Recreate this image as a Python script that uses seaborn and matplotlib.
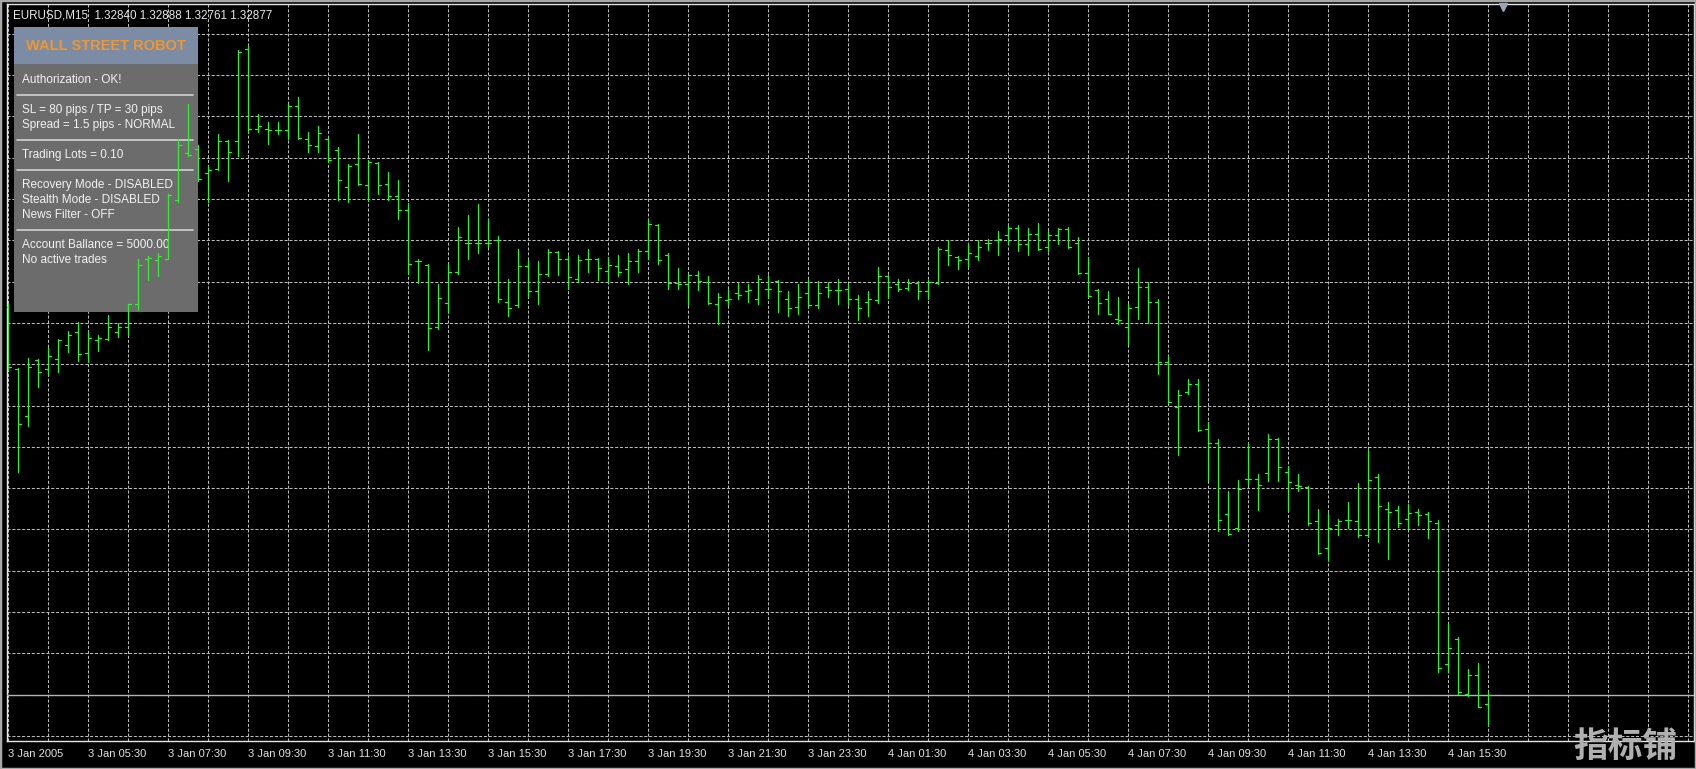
import numpy as np
import pandas as pd
import matplotlib
matplotlib.use("Agg")
import matplotlib.pyplot as plt
import matplotlib.transforms as mtransforms
from matplotlib.patches import Rectangle
import seaborn as sns

# EURUSD M15 bars (first bar 3 Jan 2005 03:30)
symbol = "EURUSD,M15"
start_time = "2005-01-03 03:30"

open_ = [1.34380, 1.34140, 1.33958, 1.34175, 1.34140, 1.34179, 1.34233, 1.34280, 1.34202, 1.34249,
         1.34253, 1.34280, 1.34303, 1.34392, 1.34563, 1.34559, 1.34566, 1.34795, 1.34977, 1.34989,
         1.34896, 1.34915, 1.35020, 1.35020, 1.35380, 1.35070, 1.35070, 1.35066, 1.35066, 1.35159,
         1.35031, 1.35004, 1.35031, 1.34985, 1.34845, 1.34931, 1.34853, 1.34935, 1.34857, 1.34810,
         1.34756, 1.34555, 1.34543, 1.34303, 1.34396, 1.34516, 1.34628, 1.34628, 1.34625, 1.34640,
         1.34400, 1.34388, 1.34539, 1.34442, 1.34508, 1.34590, 1.34563, 1.34489, 1.34566, 1.34566,
         1.34520, 1.34539, 1.34524, 1.34555, 1.34594, 1.34698, 1.34582, 1.34470, 1.34466, 1.34504,
         1.34477, 1.34392, 1.34404, 1.34431, 1.34442, 1.34408, 1.34450, 1.34481, 1.34408, 1.34377,
         1.34431, 1.34388, 1.34458, 1.34446, 1.34450, 1.34411, 1.34400, 1.34404, 1.34497, 1.34466,
         1.34454, 1.34470, 1.34439, 1.34470, 1.34601, 1.34574, 1.34566, 1.34578, 1.34625, 1.34640,
         1.34659, 1.34683, 1.34621, 1.34663, 1.34613, 1.34659, 1.34679, 1.34625, 1.34512, 1.34446,
         1.34411, 1.34334, 1.34303, 1.34380, 1.34458, 1.34400, 1.34167, 1.33993, 1.34051, 1.34082,
         1.33908, 1.33850, 1.33575, 1.33524, 1.33714, 1.33714, 1.33734, 1.33869, 1.33741, 1.33691,
         1.33683, 1.33548, 1.33447, 1.33536, 1.33555, 1.33548, 1.33497, 1.33722, 1.33598, 1.33594,
         1.33559, 1.33586, 1.33575, 1.33540, 1.32994, 1.33094, 1.32881, 1.32955, 1.32840]
high = [1.34396, 1.34144, 1.34183, 1.34179, 1.34225, 1.34253, 1.34284, 1.34322, 1.34287, 1.34272,
        1.34346, 1.34318, 1.34392, 1.34563, 1.34578, 1.34586, 1.34818, 1.35031, 1.35167, 1.35008,
        1.34923, 1.35047, 1.35027, 1.35376, 1.35395, 1.35128, 1.35097, 1.35097, 1.35167, 1.35194,
        1.35058, 1.35078, 1.35035, 1.35000, 1.34931, 1.35047, 1.34950, 1.34942, 1.34903, 1.34872,
        1.34780, 1.34566, 1.34547, 1.34466, 1.34547, 1.34690, 1.34737, 1.34776, 1.34721, 1.34652,
        1.34489, 1.34605, 1.34559, 1.34555, 1.34605, 1.34597, 1.34582, 1.34582, 1.34605, 1.34570,
        1.34574, 1.34582, 1.34586, 1.34605, 1.34721, 1.34702, 1.34586, 1.34528, 1.34508, 1.34520,
        1.34497, 1.34431, 1.34450, 1.34470, 1.34466, 1.34501, 1.34501, 1.34485, 1.34439, 1.34466,
        1.34489, 1.34481, 1.34477, 1.34489, 1.34466, 1.34427, 1.34439, 1.34532, 1.34504, 1.34489,
        1.34489, 1.34481, 1.34485, 1.34613, 1.34640, 1.34578, 1.34625, 1.34640, 1.34644, 1.34675,
        1.34698, 1.34698, 1.34683, 1.34706, 1.34675, 1.34683, 1.34687, 1.34648, 1.34574, 1.34450,
        1.34439, 1.34419, 1.34392, 1.34528, 1.34477, 1.34411, 1.34187, 1.34059, 1.34098, 1.34098,
        1.33935, 1.33869, 1.33664, 1.33710, 1.33850, 1.33730, 1.33888, 1.33873, 1.33761, 1.33730,
        1.33687, 1.33595, 1.33579, 1.33559, 1.33625, 1.33695, 1.33826, 1.33730, 1.33625, 1.33606,
        1.33617, 1.33598, 1.33586, 1.33555, 1.33149, 1.33102, 1.32978, 1.32998, 1.32888]
low = [1.34136, 1.33741, 1.33919, 1.34070, 1.34121, 1.34125, 1.34206, 1.34171, 1.34167, 1.34210,
       1.34249, 1.34264, 1.34272, 1.34369, 1.34485, 1.34497, 1.34563, 1.34787, 1.34962, 1.34865,
       1.34787, 1.34911, 1.34865, 1.34962, 1.35058, 1.35058, 1.35012, 1.35047, 1.35031, 1.35031,
       1.34981, 1.34981, 1.34942, 1.34795, 1.34787, 1.34853, 1.34795, 1.34818, 1.34795, 1.34721,
       1.34508, 1.34470, 1.34214, 1.34295, 1.34361, 1.34508, 1.34563, 1.34586, 1.34613, 1.34400,
       1.34342, 1.34380, 1.34419, 1.34392, 1.34497, 1.34504, 1.34450, 1.34477, 1.34516, 1.34485,
       1.34477, 1.34497, 1.34466, 1.34516, 1.34566, 1.34547, 1.34450, 1.34450, 1.34388, 1.34446,
       1.34392, 1.34311, 1.34388, 1.34408, 1.34400, 1.34392, 1.34415, 1.34361, 1.34342, 1.34353,
       1.34380, 1.34373, 1.34419, 1.34392, 1.34388, 1.34330, 1.34342, 1.34396, 1.34415, 1.34439,
       1.34446, 1.34408, 1.34408, 1.34466, 1.34543, 1.34524, 1.34535, 1.34559, 1.34601, 1.34582,
       1.34621, 1.34597, 1.34582, 1.34601, 1.34597, 1.34621, 1.34609, 1.34508, 1.34419, 1.34353,
       1.34350, 1.34311, 1.34237, 1.34334, 1.34315, 1.34121, 1.34005, 1.33807, 1.34043, 1.33900,
       1.33710, 1.33509, 1.33497, 1.33509, 1.33691, 1.33594, 1.33703, 1.33703, 1.33594, 1.33664,
       1.33536, 1.33420, 1.33400, 1.33497, 1.33521, 1.33489, 1.33489, 1.33470, 1.33404, 1.33528,
       1.33521, 1.33536, 1.33482, 1.32966, 1.32966, 1.32881, 1.32870, 1.32831, 1.32761]
close = [1.34148, 1.33927, 1.34148, 1.34125, 1.34187, 1.34249, 1.34272, 1.34195, 1.34257, 1.34260,
         1.34303, 1.34303, 1.34392, 1.34543, 1.34570, 1.34578, 1.34814, 1.35008, 1.34969, 1.34876,
         1.34911, 1.35020, 1.34981, 1.35368, 1.35070, 1.35078, 1.35066, 1.35066, 1.35159, 1.35035,
         1.35008, 1.35051, 1.34950, 1.34869, 1.34923, 1.34857, 1.34942, 1.34853, 1.34810, 1.34756,
         1.34547, 1.34555, 1.34299, 1.34415, 1.34516, 1.34648, 1.34628, 1.34628, 1.34628, 1.34408,
         1.34373, 1.34539, 1.34442, 1.34508, 1.34590, 1.34563, 1.34493, 1.34559, 1.34566, 1.34528,
         1.34543, 1.34516, 1.34555, 1.34594, 1.34702, 1.34559, 1.34470, 1.34466, 1.34504, 1.34481,
         1.34396, 1.34419, 1.34408, 1.34427, 1.34446, 1.34489, 1.34450, 1.34442, 1.34373, 1.34419,
         1.34388, 1.34431, 1.34446, 1.34446, 1.34411, 1.34373, 1.34411, 1.34497, 1.34458, 1.34450,
         1.34470, 1.34439, 1.34477, 1.34605, 1.34582, 1.34559, 1.34586, 1.34613, 1.34628, 1.34644,
         1.34683, 1.34621, 1.34663, 1.34605, 1.34659, 1.34679, 1.34613, 1.34512, 1.34423, 1.34396,
         1.34353, 1.34330, 1.34373, 1.34458, 1.34400, 1.34167, 1.34012, 1.34039, 1.34082, 1.33904,
         1.33850, 1.33555, 1.33501, 1.33675, 1.33714, 1.33691, 1.33869, 1.33757, 1.33699, 1.33687,
         1.33540, 1.33424, 1.33521, 1.33548, 1.33555, 1.33497, 1.33710, 1.33606, 1.33586, 1.33540,
         1.33579, 1.33571, 1.33548, 1.32982, 1.33059, 1.32889, 1.32955, 1.32831, 1.32877]

panel_title = "WALL STREET ROBOT"
panel_blocks = [
    ["Authorization - OK!"],
    ["SL = 80 pips / TP = 30 pips", "Spread = 1.5 pips - NORMAL"],
    ["Trading Lots = 0.10"],
    ["Recovery Mode - DISABLED", "Stealth Mode - DISABLED", "News Filter - OFF"],
    ["Account Ballance = 5000.00", "No active trades"],
]
watermark = "指标铺"

W, H = 1696, 769
sns.set_theme(style="dark")
plt.rcParams["font.family"] = ["Liberation Sans", "DejaVu Sans"]
plt.rcParams["lines.scale_dashes"] = False

n = len(open_)
times = pd.date_range(start_time, periods=n, freq="15min")

# OHLC bars as short segments (range line, open tick left, close tick right)
tk = 0.3
rows = []
for i in range(n):
    rows += [(3 * i, i, low[i]), (3 * i, i, high[i]),
             (3 * i + 1, i - tk, open_[i]), (3 * i + 1, i, open_[i]),
             (3 * i + 2, i, close[i]), (3 * i + 2, i + tk, close[i])]
bars = pd.DataFrame(rows, columns=["seg", "bar", "price"])

fig = plt.figure(figsize=(W / 100, H / 100), dpi=100, facecolor="black")
ax = fig.add_axes([7 / W, (H - 741) / H, (1694 - 7) / W, (741 - 4) / H])
ax.set_facecolor("black")

sns.lineplot(data=bars, x="bar", y="price", units="seg", estimator=None, sort=False,
             color="#33ee33", linewidth=0.9, ax=ax, zorder=5, legend=False)

ax.set_xlim(-0.1, 168.6)
ax.set_ylim(1.326974, 1.355525)
ax.set_xlabel("")
ax.set_ylabel("")

# grid like the terminal: every hour / fixed price step (one line sits on the bid)
major = np.arange(0, n, 8)
minor = [x for x in range(4, 169, 4) if x not in set(major)]
labels = ["%d Jan 2005" % times[0].day if i == 0 else "%d Jan %s" % (times[i].day, times[i].strftime("%H:%M"))
          for i in major]
ax.set_xticks(major, labels)
ax.set_xticks(minor, minor=True)
ax.set_yticks(close[-1] + 0.0016 * (16 - np.arange(18)))
ax.set_yticklabels([])
for lab in ax.get_xticklabels():
    lab.set_horizontalalignment("left")
ax.tick_params(axis="x", which="major", direction="out", length=4, width=0.8, color="white",
               labelsize=8, labelcolor="#e2e2e2", pad=1.5)
ax.tick_params(axis="x", which="minor", length=0)
ax.tick_params(axis="y", length=0)
ax.grid(True, which="both", color="#bcbcbc", linewidth=0.75, linestyle=(0, (2.2, 1.3)), zorder=0)
ax.set_axisbelow(True)
for s in ax.spines.values():
    s.set_color("#e6e6e6")
    s.set_linewidth(1)
    s.set_visible(True)

# bid line
ax.axhline(close[-1], color="#aeb4bc", linewidth=1, zorder=3)

# overlay objects in screen pixels
px = mtransforms.Affine2D().scale(1 / W, -1 / H).translate(0, 1) + fig.transFigure

ax.add_patch(Rectangle((14, 27), 184, 285, transform=px, facecolor="#6c6c6c",
                       edgecolor="none", zorder=2, clip_on=False))
ax.add_patch(Rectangle((14, 27), 184, 37, transform=px, facecolor="#7b8ca4",
                       edgecolor="none", zorder=2.1, clip_on=False))
ax.text(106, 46, panel_title, transform=px, ha="center", va="center", fontsize=10.5,
        fontweight="bold", color="#ef9630", zorder=2.2, clip_on=False)

y = 80
for b, block in enumerate(panel_blocks):
    if b > 0:
        ax.plot([17, 193], [y, y], transform=px, color="#d2d2d2", lw=1.2,
                zorder=2.2, clip_on=False)
        y += 15
    for line in block:
        ax.text(22, y, line, transform=px, ha="left", va="center", fontsize=8.5,
                color="#f2f2f2", zorder=2.2, clip_on=False)
        y += 15

ax.text(13, 16, "%s  %.5f %.5f %.5f %.5f" % (symbol, open_[-1], high[-1], low[-1], close[-1]),
        transform=px, ha="left", va="center", fontsize=8.4, color="#e6e6e6", zorder=6, clip_on=False)

ax.plot([1503], [7], marker="v", markersize=6, color="#9ca4b8", transform=px, clip_on=False, zorder=6)

ax.text(1625, 746, watermark, transform=px, ha="center", va="center", fontsize=25,
        family=["Noto Sans CJK SC", "DejaVu Sans"], fontweight="bold", color="#b0b0b0",
        zorder=10, clip_on=False)

fig.add_artist(Rectangle((0, 0), 1, 1, transform=fig.transFigure, fill=False,
                         edgecolor="#a8a8a8", linewidth=2.5))

fig.savefig("out.png", dpi=100, facecolor="black")
